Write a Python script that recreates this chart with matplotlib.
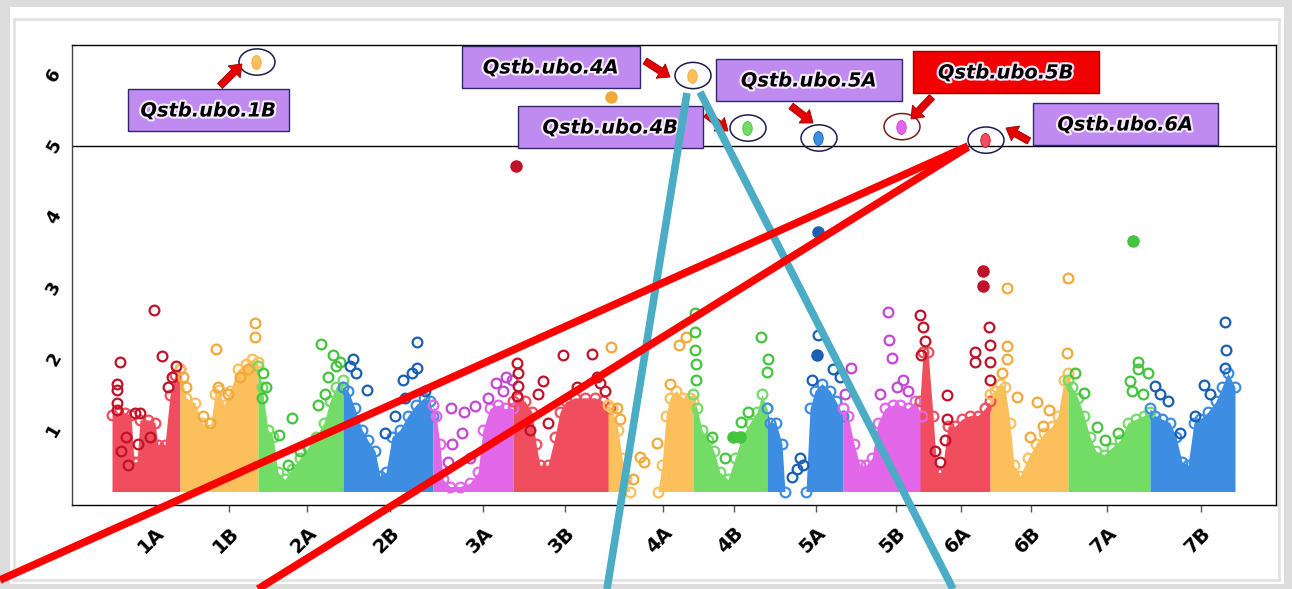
import matplotlib
matplotlib.use("Agg")
import matplotlib.pyplot as plt
import matplotlib.patheffects as pe
from matplotlib.patches import Ellipse, Rectangle, FancyArrow
from matplotlib.path import Path

W, H = 1292, 589

# chromosomes, tick positions on the cumulative axis
chroms = ["1A", "1B", "2A", "2B", "3A", "3B", "4A", "4B", "5A", "5B", "6A", "6B", "7A", "7B"]
tick_pos = [155, 229, 307, 390, 483, 565, 663, 734, 816, 896, 961, 1031, 1107, 1201]
chrom_colour = ["red", "orange", "green", "blue", "magenta",
                "red", "orange", "green", "blue", "magenta",
                "red", "orange", "green", "blue"]

# (mass fill, ring edge)
palette = {
    "red": ("#f04e5e", "#c01228"),
    "orange": ("#fbbf5c", "#f2a93a"),
    "green": ("#72dc66", "#44c43e"),
    "blue": ("#3d8ee2", "#1b5fb3"),
    "magenta": ("#e266e8", "#c447d2"),
}

BASE = 0.13  # lowest -log10(p) in the scan
THRESH = 5.0

# upper envelope of the dense SNP mass on each chromosome
env_1A_x = [112, 118, 125, 131, 134, 137, 140, 148, 155, 158, 165, 170, 175, 180]
env_1A_y = [1.21, 1.24, 1.24, 1.21, 0.55, 0.55, 1.14, 1.14, 1.10, 0.79, 0.79, 1.49, 1.77, 1.85]
env_1B_x = [180, 186, 195, 202, 210, 215, 219, 224, 230, 238, 246, 252, 258]
env_1B_y = [1.85, 1.45, 1.38, 1.10, 1.00, 1.50, 1.56, 1.35, 1.55, 1.85, 1.92, 1.99, 1.95]
env_2A_x = [258, 262, 268, 273, 278, 285, 292, 300, 308, 316, 324, 330, 336, 343]
env_2A_y = [1.90, 1.60, 1.00, 0.90, 0.40, 0.30, 0.45, 0.60, 0.75, 0.90, 1.10, 1.40, 1.60, 1.70]
env_2B_x = [343, 348, 355, 362, 368, 375, 380, 386, 392, 400, 408, 416, 424, 430, 433]
env_2B_y = [1.60, 1.55, 1.30, 1.00, 0.85, 0.70, 0.35, 0.40, 0.90, 1.00, 1.20, 1.35, 1.45, 1.40, 1.20]
env_3A_x = [433, 436, 440, 443, 450, 460, 470, 478, 483, 490, 498, 505, 513]
env_3A_y = [1.35, 1.20, 0.80, 0.30, 0.20, 0.20, 0.25, 0.40, 1.00, 1.30, 1.35, 1.30, 1.30]
env_3B_x = [513, 518, 525, 532, 536, 540, 548, 555, 560, 566, 575, 585, 595, 603, 610]
env_3B_y = [1.40, 1.45, 1.40, 1.25, 0.80, 0.50, 0.50, 0.90, 1.25, 1.40, 1.45, 1.45, 1.45, 1.40, 1.30]
env_4A_x = [608, 612, 618, 622, 626, 630, 658, 662, 666, 670, 676, 683, 690, 693]
env_4A_y = [1.35, 1.30, 1.00, 0.60, 0.30, 0.13, 0.13, 0.50, 1.20, 1.45, 1.55, 1.45, 1.45, 1.40]
env_4B_x = [693, 697, 702, 708, 714, 720, 728, 735, 742, 750, 757, 762, 767]
env_4B_y = [1.50, 1.30, 1.00, 0.85, 0.70, 0.40, 0.30, 0.60, 0.90, 1.10, 1.25, 1.50, 1.30]
env_5A_x = [767, 770, 776, 782, 785, 806, 810, 815, 822, 830, 836, 843]
env_5A_y = [1.30, 1.10, 1.10, 0.80, 0.13, 0.13, 1.30, 1.55, 1.65, 1.55, 1.40, 1.20]
env_5B_x = [843, 848, 854, 860, 866, 872, 878, 885, 893, 900, 908, 915, 922]
env_5B_y = [1.30, 1.20, 0.80, 0.50, 0.50, 0.60, 1.10, 1.30, 1.35, 1.35, 1.30, 1.40, 1.20]
env_6A_x = [920, 923, 928, 933, 937, 942, 948, 955, 962, 970, 978, 985, 990]
env_6A_y = [1.40, 2.10, 2.10, 1.20, 0.40, 0.40, 1.05, 1.05, 1.15, 1.20, 1.20, 1.30, 1.40]
env_6B_x = [990, 995, 1000, 1005, 1010, 1014, 1020, 1028, 1036, 1044, 1052, 1058, 1064, 1068]
env_6B_y = [1.50, 1.55, 1.65, 1.60, 1.10, 0.50, 0.35, 0.60, 0.80, 0.95, 1.05, 1.20, 1.70, 1.80]
env_7A_x = [1068, 1072, 1078, 1084, 1090, 1096, 1104, 1112, 1120, 1128, 1136, 1144, 1150]
env_7A_y = [1.70, 1.60, 1.45, 1.20, 0.90, 0.70, 0.65, 0.75, 0.85, 1.10, 1.15, 1.20, 1.25]
env_7B_x = [1150, 1155, 1162, 1170, 1176, 1182, 1188, 1194, 1200, 1208, 1216, 1222, 1228, 1235]
env_7B_y = [1.30, 1.20, 1.15, 1.10, 0.90, 0.55, 0.50, 1.10, 1.15, 1.25, 1.40, 1.60, 1.80, 1.60]

# isolated SNPs standing out from the mass
snp_1A_x = [120, 117, 117, 117, 117, 154, 162, 135, 140, 138, 126, 121, 128, 150, 168, 172, 176]
snp_1A_y = [1.96, 1.65, 1.56, 1.37, 1.28, 2.69, 2.04, 1.24, 1.24, 0.80, 0.90, 0.70, 0.50, 0.90, 1.60, 1.75, 1.90]
snp_1B_x = [216, 255, 255, 183, 186, 203, 210, 218, 228, 240, 248]
snp_1B_y = [2.14, 2.51, 2.31, 1.75, 1.60, 1.20, 1.10, 1.60, 1.50, 1.75, 1.85]
snp_2A_x = [321, 333, 292, 279, 263, 266, 262, 328, 336, 340, 325, 318, 300, 288]
snp_2A_y = [2.21, 2.05, 1.17, 0.93, 1.80, 1.60, 1.45, 1.75, 1.90, 1.95, 1.50, 1.35, 0.70, 0.50]
snp_2B_x = [417, 417, 367, 353, 403, 412, 405, 350, 356, 395, 385, 425]
snp_2B_y = [2.23, 1.87, 1.56, 1.99, 1.70, 1.80, 1.45, 1.90, 1.80, 1.20, 0.95, 1.55]
snp_3A_x = [451, 464, 475, 496, 512, 452, 462, 448, 470, 488, 503, 506]
snp_3A_y = [1.31, 1.25, 1.34, 1.66, 1.70, 0.80, 0.95, 0.55, 0.60, 1.45, 1.55, 1.75]
snp_3B_x = [517, 518, 518, 517, 563, 592, 600, 543, 538, 530, 548, 597, 605, 577]
snp_3B_y = [1.94, 1.80, 1.62, 1.48, 2.06, 2.07, 1.66, 1.68, 1.50, 1.00, 1.10, 1.75, 1.55, 1.60]
snp_4A_x = [611, 640, 657, 679, 686, 617, 620, 644, 633, 670]
snp_4A_y = [2.17, 0.62, 0.82, 2.19, 2.31, 1.30, 1.15, 0.55, 0.30, 1.65]
snp_4B_x = [695, 695, 695, 696, 696, 761, 768, 767, 741, 748, 725, 712]
snp_4B_y = [2.65, 2.38, 2.13, 1.92, 1.70, 2.31, 1.99, 1.81, 1.11, 1.25, 0.60, 0.90]
snp_5A_x = [818, 792, 800, 803, 833, 840, 812, 797]
snp_5A_y = [2.34, 0.34, 0.60, 0.50, 1.85, 1.75, 1.70, 0.45]
snp_5B_x = [888, 889, 892, 851, 845, 897, 903, 908, 880]
snp_5B_y = [2.66, 2.27, 2.01, 1.87, 1.50, 1.60, 1.70, 1.55, 1.50]
snp_6A_x = [920, 923, 925, 921, 989, 990, 990, 990, 975, 975, 947, 947, 945, 935, 940]
snp_6A_y = [2.62, 2.45, 2.25, 2.05, 2.45, 2.20, 1.95, 1.70, 2.10, 1.95, 1.49, 1.15, 0.85, 0.70, 0.55]
snp_6B_x = [1007, 1007, 1007, 1017, 1037, 1049, 1068, 1067, 1002, 1030, 1043]
snp_6B_y = [3.00, 2.18, 2.00, 1.46, 1.39, 1.28, 3.14, 2.08, 1.80, 0.90, 1.05]
snp_7A_x = [1138, 1138, 1130, 1148, 1084, 1097, 1075, 1132, 1143, 1105, 1118]
snp_7A_y = [1.96, 1.86, 1.68, 1.80, 1.52, 1.04, 1.80, 1.55, 1.50, 0.85, 0.95]
snp_7B_x = [1225, 1226, 1225, 1204, 1155, 1168, 1195, 1210, 1180, 1160]
snp_7B_y = [2.52, 2.13, 1.87, 1.63, 1.61, 1.40, 1.20, 1.50, 0.95, 1.50]

# solid (strongest) SNPs
top_x = [611, 516, 818, 1133, 983, 983, 817, 733, 740]
top_y = [5.69, 4.72, 3.79, 3.66, 3.23, 3.03, 2.06, 0.90, 0.90]
top_col = ["orange", "red", "blue", "green", "red", "red", "blue", "green", "green"]

# QTL peaks above the threshold
qtl_names = ["Qstb.ubo.1B", "Qstb.ubo.4A", "Qstb.ubo.4B", "Qstb.ubo.5A", "Qstb.ubo.5B", "Qstb.ubo.6A"]
qtl_x = [256, 692, 747, 818, 901, 985]
qtl_y = [6.18, 5.99, 5.25, 5.11, 5.27, 5.08]
qtl_col = ["orange", "orange", "green", "blue", "magenta", "red"]

envelopes = [(env_1A_x, env_1A_y), (env_1B_x, env_1B_y), (env_2A_x, env_2A_y), (env_2B_x, env_2B_y),
             (env_3A_x, env_3A_y), (env_3B_x, env_3B_y), (env_4A_x, env_4A_y), (env_4B_x, env_4B_y),
             (env_5A_x, env_5A_y), (env_5B_x, env_5B_y), (env_6A_x, env_6A_y), (env_6B_x, env_6B_y),
             (env_7A_x, env_7A_y), (env_7B_x, env_7B_y)]
snps = [(snp_1A_x, snp_1A_y), (snp_1B_x, snp_1B_y), (snp_2A_x, snp_2A_y), (snp_2B_x, snp_2B_y),
        (snp_3A_x, snp_3A_y), (snp_3B_x, snp_3B_y), (snp_4A_x, snp_4A_y), (snp_4B_x, snp_4B_y),
        (snp_5A_x, snp_5A_y), (snp_5B_x, snp_5B_y), (snp_6A_x, snp_6A_y), (snp_6B_x, snp_6B_y),
        (snp_7A_x, snp_7A_y), (snp_7B_x, snp_7B_y)]

fig = plt.figure(figsize=(W / 100, H / 100), dpi=100)
fig.patch.set_facecolor("#dcdcdc")

# slide panel behind the plot
bg = fig.add_axes([0, 0, 1, 1], zorder=0)
bg.set_xlim(0, W)
bg.set_ylim(H, 0)
bg.axis("off")
bg.add_patch(Rectangle((10, 7), 1274, 577, facecolor="white", edgecolor="none"))
bg.add_patch(Rectangle((14, 19), 1265, 561, facecolor="none", edgecolor="#e2e2e2", lw=2))

ax = fig.add_axes([72 / W, 1 - 505 / H, (1276 - 72) / W, (505 - 45) / H], zorder=1)
ax.set_xlim(72, 1276)
ax.set_ylim(-0.06, 6.42)

oval = Path(Path.unit_circle().vertices * [0.68, 1.0], Path.unit_circle().codes)

for (ex, ey), (sx, sy), cname in zip(envelopes, snps, chrom_colour):
    fill, ring = palette[cname]
    ax.fill_between(ex, BASE, ey, color=fill, lw=0, zorder=2)
    ax.plot(ex, ey, "o", mfc="none", mec=fill, ms=7, mew=1.6, ls="none", zorder=3)
    ax.plot(sx, sy, "o", mfc="none", mec=ring, ms=7, mew=1.6, ls="none", zorder=4)

for x, y, c in zip(top_x, top_y, top_col):
    ax.plot(x, y, "o", color=palette[c][1], mec=palette[c][1], ms=8, zorder=5)

for x, y, c in zip(qtl_x, qtl_y, qtl_col):
    ax.plot(x, y, marker=oval, color=palette[c][0], mec=palette[c][1], mew=0.6, ms=10, zorder=5)
    edge = "#7a1c1c" if c == "magenta" else "#1c1c50"
    ax.add_patch(Ellipse((x + 1, y), 36, 0.37, facecolor="none", edgecolor=edge, lw=1.1, zorder=6))

ax.axhline(THRESH, color="black", lw=1, zorder=1)

ax.set_xticks(tick_pos)
ax.set_xticklabels(chroms, fontsize=14, fontweight="bold", rotation=45,
                   ha="right", va="top", rotation_mode="anchor")
ax.tick_params(axis="x", length=5, width=1, color="#555555", pad=8)
ax.set_yticks([1, 2, 3, 4, 5, 6])
ax.set_yticklabels(["1", "2", "3", "4", "5", "6"], fontsize=13, fontweight="bold",
                   rotation=60, ha="center", va="center")
ax.tick_params(axis="y", length=0, pad=13)
for s in ax.spines.values():
    s.set_linewidth(1)
ax.spines["left"].set_color("#444444")

# labels, arrows and connecting lines on top
ov = fig.add_axes([0, 0, 1, 1], zorder=2)
ov.set_xlim(0, W)
ov.set_ylim(H, 0)
ov.axis("off")
ov.patch.set_alpha(0)

box_x0 = [128, 462, 518, 716, 913, 1033]
box_y0 = [89, 46, 106, 59, 51, 103]
box_x1 = [289, 640, 703, 902, 1099, 1218]
box_y1 = [131, 88, 148, 101, 93, 145]
box_face = ["#bf8bf0", "#bf8bf0", "#bf8bf0", "#bf8bf0", "#f00000", "#bf8bf0"]

for name, x0, y0, x1, y1, fc in zip(qtl_names, box_x0, box_y0, box_x1, box_y1, box_face):
    ec = "#a00000" if fc == "#f00000" else "#2e2a6a"
    ov.add_patch(Rectangle((x0, y0), x1 - x0, y1 - y0, facecolor=fc, edgecolor=ec, lw=1, zorder=3))
    ov.text((x0 + x1) / 2, (y0 + y1) / 2 + 1, name, fontsize=14, fontweight="bold", style="italic",
            ha="center", va="center", color="black", zorder=4,
            path_effects=[pe.withStroke(linewidth=3, foreground="#f6eaff")])

arrow_tail = [(220, 86), (645, 61), (706, 114), (791, 106), (932, 97), (1029, 141)]
arrow_head = [(242, 64), (670, 77), (728, 131), (813, 123), (911, 119), (1006, 128)]
for (tx, ty), (hx, hy) in zip(arrow_tail, arrow_head):
    ov.add_patch(FancyArrow(tx, ty, hx - tx, hy - ty, width=7, head_width=17, head_length=11,
                            length_includes_head=True, facecolor="#e40000", edgecolor="#9a0000",
                            lw=0.6, zorder=2))

ov.plot([968, 0], [146, 580], color="#ff0000", lw=5.5, solid_capstyle="butt", zorder=6)
ov.plot([968, 258], [147, 589], color="#ff0000", lw=5.5, solid_capstyle="butt", zorder=6)
ov.plot([687, 607], [93, 589], color="#4bacc6", lw=5.5, solid_capstyle="butt", zorder=5)
ov.plot([700, 953], [92, 589], color="#4bacc6", lw=5.5, solid_capstyle="butt", zorder=5)

fig.savefig("out.png", dpi=100, facecolor=fig.get_facecolor())
